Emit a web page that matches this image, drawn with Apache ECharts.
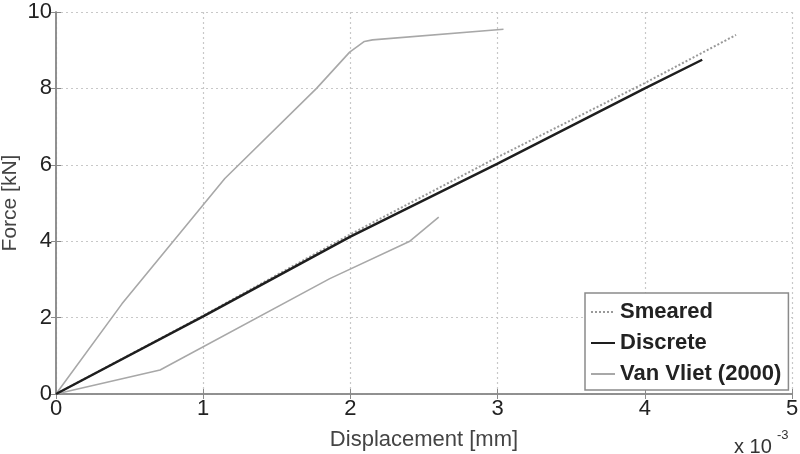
<!DOCTYPE html>
<html>
<head>
<meta charset="utf-8">
<script src="https://cdn.jsdelivr.net/npm/echarts@6/dist/echarts.min.js"></script>
<style>html,body{margin:0;padding:0;background:#fff}#c{width:800px;height:454px}</style>
</head>
<body>
<div id="c"></div>
<script>
// Displacement in units of 10^-3 mm, force in kN
const xTicks = [0, 1, 2, 3, 4, 5];
const yTicks = [0, 2, 4, 6, 8, 10];

const smearedX = [0, 1.0, 2.0, 3.0, 4.0, 4.62];
const smearedY = [0, 2.05, 4.18, 6.2, 8.14, 9.4];

const discreteX = [0, 1.0, 2.0, 3.0, 4.0, 4.39];
const discreteY = [0, 2.03, 4.12, 6.03, 8.0, 8.75];

const vvUpperX = [0, 0.448, 1.147, 1.77, 1.995, 2.095, 2.15, 3.04];
const vvUpperY = [0, 2.36, 5.64, 8.0, 8.95, 9.23, 9.27, 9.55];

const vvLowerX = [0, 0.707, 1.86, 2.4, 2.6];
const vvLowerY = [0, 0.63, 3.02, 3.99, 4.63];

const zip = (xs, ys) => xs.map((x, i) => [x, ys[i]]);

const font = 'Liberation Sans, Arial, sans-serif';
const chart = echarts.init(document.getElementById('c'));
const gridLine = { show: true, lineStyle: { color: '#c8c8c8', width: 1.2, type: [2, 3] } };
const boxLine = { show: true, lineStyle: { color: '#8a8a8a', width: 1.5 } };
const tick = { show: true, inside: true, length: 5, lineStyle: { color: '#8a8a8a' } };

chart.setOption({
  backgroundColor: '#fff',
  animation: false,
  grid: { left: 56, right: 8, top: 12, bottom: 60, containLabel: false, outerBoundsMode: 'none' },
  xAxis: [{
    type: 'value', min: xTicks[0], max: xTicks[xTicks.length - 1], interval: 1,
    name: 'Displacement [mm]', nameLocation: 'middle', nameGap: 35,
    nameTextStyle: { fontFamily: font, fontSize: 22, color: '#444' },
    axisLine: boxLine, axisTick: tick,
    axisLabel: { fontFamily: font, fontSize: 22, color: '#222', margin: 4 },
    splitLine: gridLine
  }, {
    type: 'value', position: 'top', min: xTicks[0], max: xTicks[xTicks.length - 1], interval: 1,
    axisLine: boxLine, axisTick: tick,
    axisLabel: { show: false }, splitLine: { show: false }
  }],
  yAxis: [{
    type: 'value', min: yTicks[0], max: yTicks[yTicks.length - 1], interval: 2,
    name: 'Force [kN]', nameLocation: 'middle', nameGap: 35, nameMoveOverlap: false,
    nameTextStyle: { fontFamily: font, fontSize: 21, color: '#444' },
    axisLine: boxLine, axisTick: tick,
    axisLabel: { fontFamily: font, fontSize: 22, color: '#222', margin: 4 },
    splitLine: gridLine
  }, {
    type: 'value', position: 'right', min: yTicks[0], max: yTicks[yTicks.length - 1], interval: 2,
    axisLine: boxLine, axisTick: tick,
    axisLabel: { show: false }, splitLine: { show: false }
  }],
  legend: {
    orient: 'vertical', left: 585, top: 293,
    backgroundColor: '#fff', borderColor: '#8a8a8a', borderWidth: 1.5, borderRadius: 0,
    padding: [8, 7, 5, 5], itemGap: 9, itemWidth: 24, itemHeight: 22,
    itemStyle: { opacity: 0 },
    textStyle: { fontFamily: font, fontSize: 22, fontWeight: 'bold', color: '#222', lineHeight: 22 },
    data: ['Smeared', 'Discrete', 'Van Vliet (2000)']
  },
  series: [
    { name: 'Van Vliet (2000)', type: 'line', data: zip(vvUpperX, vvUpperY), symbol: 'none',
      lineStyle: { color: '#a8a8a8', width: 1.6 }, itemStyle: { color: '#a8a8a8' } },
    { name: 'Van Vliet (2000)', type: 'line', data: zip(vvLowerX, vvLowerY), symbol: 'none',
      lineStyle: { color: '#a8a8a8', width: 1.6 }, itemStyle: { color: '#a8a8a8' } },
    { name: 'Smeared', type: 'line', data: zip(smearedX, smearedY), symbol: 'none',
      lineStyle: { color: '#999', width: 2, type: [2, 2] }, itemStyle: { color: '#999' } },
    { name: 'Discrete', type: 'line', data: zip(discreteX, discreteY), symbol: 'none',
      lineStyle: { color: '#1e1e1e', width: 2.5 }, itemStyle: { color: '#1e1e1e' }, z: 3 }
  ],
  graphic: [
    { type: 'text', left: 734, top: 437,
      style: { text: 'x 10', fontFamily: font, fontSize: 20, fill: '#333' } },
    { type: 'text', left: 777, top: 429,
      style: { text: '-3', fontFamily: font, fontSize: 13, fill: '#333' } }
  ]
});
</script>
</body>
</html>
